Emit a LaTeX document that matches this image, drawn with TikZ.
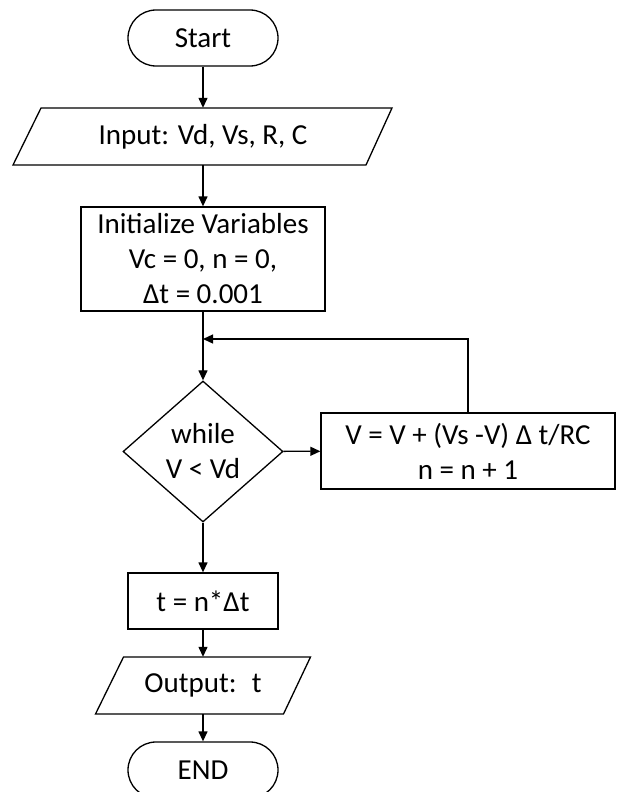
\documentclass[tikz,border=0pt]{standalone}
\usepackage{fontspec}
\setmainfont{Carlito}
\usetikzlibrary{shapes.geometric,arrows.meta}
\begin{document}
\begin{tikzpicture}[x=1pt,y=-1pt,
  every node/.style={font=\fontsize{29}{35}\selectfont, align=center, inner sep=0pt},
  line/.style={line width=1.3pt},
  arr/.style={line width=1.3pt, -{Triangle[length=10pt,width=9pt]}},
  term/.style={draw, line width=1.3pt, rectangle, rounded corners=28pt, minimum width=150pt, minimum height=56pt},
  proc/.style={draw, line width=1.3pt, rectangle},
  txt/.style={rectangle},
  dec/.style={draw, line width=1.3pt, diamond, minimum width=160pt, minimum height=141pt}]
\clip (0,0) rectangle (616,792);
\useasboundingbox (0,0) rectangle (616,792);
% Start
\node[term] (start) at (203,38) {Start};
% Input parallelogram
\draw[line, line join=miter] (41,108) -- (392,108) -- (366,165) -- (13,165) -- cycle;
\node[txt, minimum width=300pt, minimum height=57pt] (input) at (203,136.5) {Input: Vd, Vs, R, C};
% Init
\node[proc, minimum width=244pt, minimum height=104pt] (init) at (203,259) {Initialize Variables\\Vc = 0, n = 0,\\Δt = 0.001};
% Decision
\node[dec] (dec) at (203,451.5) {while\\V < Vd};
% Update box
\node[proc, minimum width=294pt, minimum height=76pt] (upd) at (468,451) {V = V + (Vs -V) Δ t/RC\\n = n + 1};
% t box
\node[proc, minimum width=150pt, minimum height=56pt] (tbox) at (203,601) {t = n*Δt};
% Output parallelogram
\draw[line, line join=miter] (123.5,657) -- (310.5,657) -- (283.5,714) -- (95.5,714) -- cycle;
\node[txt, minimum width=160pt, minimum height=57pt] (output) at (203,685.5) {Output:~ t};
% END
\node[term] (end) at (203,770) {END};
% connectors
\coordinate (join) at (203,339);
\draw[arr] (start) -- (input);
\draw[arr] (input) -- (init);
\draw[arr] (init) -- (dec);
\draw[arr] (dec) -- (upd);
\draw[arr] (upd.north) |- (join);
\draw[arr] (dec) -- (tbox);
\draw[arr] (tbox) -- (output);
\draw[arr] (output) -- (end);
\end{tikzpicture}
\end{document}
